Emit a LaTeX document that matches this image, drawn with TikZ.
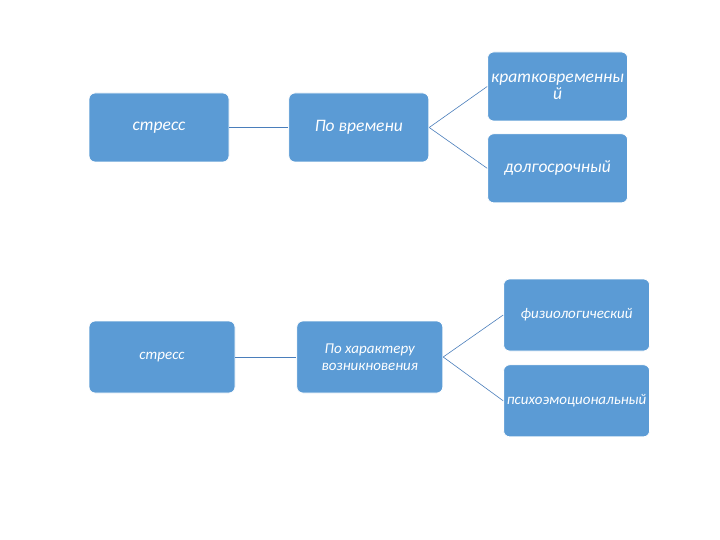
\documentclass[tikz,border=0pt]{standalone}
\usepackage{fontspec}
\setmainfont{Carlito}
\usepackage{xcolor}
\usetikzlibrary{positioning}

\definecolor{boxblue}{HTML}{5B9BD5}
\definecolor{linkblue}{HTML}{4A7EBB}

\begin{document}
\begin{tikzpicture}[
  x=1pt, y=-1pt,
  box/.style={draw=white, line width=0.8pt, fill=boxblue, rounded corners=6pt, align=center,
    text=white, inner sep=1pt, font=\itshape},
  big/.style={box, minimum width=140pt, minimum height=69pt, font=\itshape\fontsize{17.5}{17}\selectfont},
  small/.style={box, minimum width=146pt, minimum height=72pt, font=\itshape\fontsize{15}{17}\selectfont},
  link/.style={draw=linkblue, line width=0.6pt}
]
\useasboundingbox[fill=white] (0,0) rectangle (720,540);

% by time
\node[big] (stress-a) at (159,127.5) {стресс};
\node[big, right=59pt of stress-a] (time) {По времени};
\node[big, right=58pt of time, yshift=41pt] (short) {кратковременны\\й};
\node[big, below=12pt of short] (long) {долгосрочный};
\draw[link] (stress-a) -- (time);
\draw[link] (time.east) -- (short.west);
\draw[link] (time.east) -- (long.west);

% by origin
\node[small] (stress-b) at (162,357) {стресс};
\node[small, right=61pt of stress-b] (origin) {По характеру\\возникновения};
\node[small, right=60pt of origin, yshift=42pt] (physio) {физиологический};
\node[small, below=13pt of physio] (psycho) {психоэмоциональный};
\draw[link] (stress-b) -- (origin);
\draw[link] (origin.east) -- (physio.west);
\draw[link] (origin.east) -- (psycho.west);
\end{tikzpicture}
\end{document}
